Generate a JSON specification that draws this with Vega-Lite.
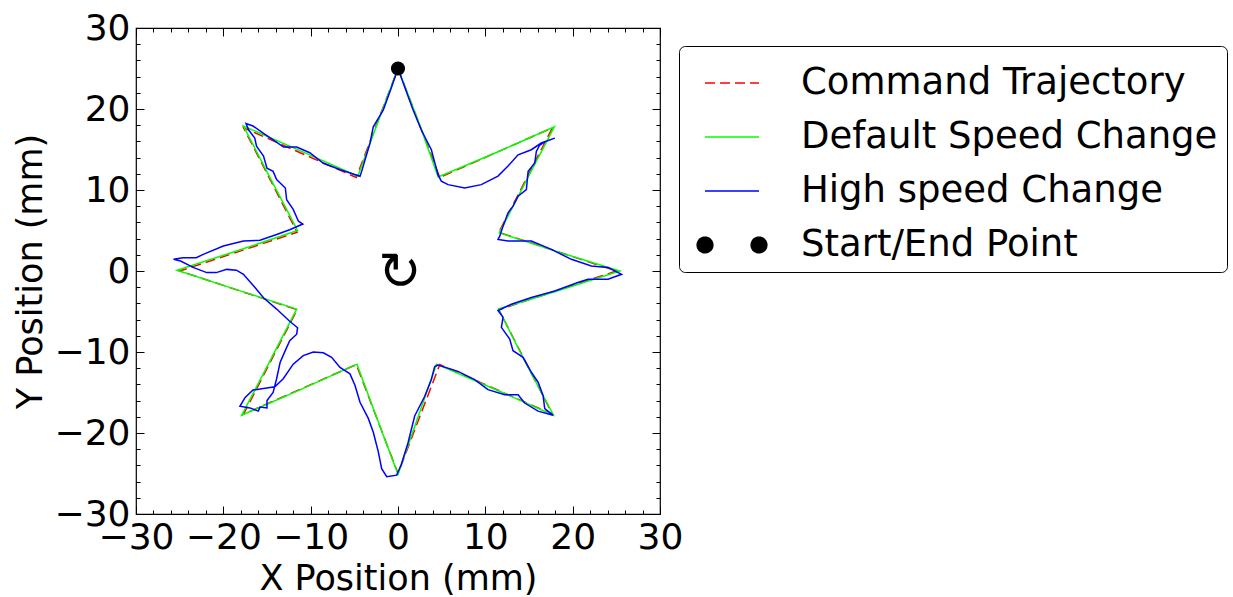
{
  "$schema": "https://vega.github.io/schema/vega-lite/v6.json",
  "width": 524,
  "height": 486,
  "autosize": {"type": "none"},
  "padding": {"left": 136, "top": 28, "right": 573, "bottom": 83},
  "background": "white",
  "config": {
    "view": {"stroke": "black", "strokeWidth": 1.2},
    "font": "DejaVu Sans"
  },
  "datasets": {
    "traj": [
      {"s": "Command Trajectory", "i": 0, "x": 0, "y": 25},
      {"s": "Command Trajectory", "i": 1, "x": 4.78, "y": 11.55},
      {"s": "Command Trajectory", "i": 2, "x": 17.68, "y": 17.68},
      {"s": "Command Trajectory", "i": 3, "x": 11.55, "y": 4.78},
      {"s": "Command Trajectory", "i": 4, "x": 25, "y": 0},
      {"s": "Command Trajectory", "i": 5, "x": 11.55, "y": -4.78},
      {"s": "Command Trajectory", "i": 6, "x": 17.68, "y": -17.68},
      {"s": "Command Trajectory", "i": 7, "x": 4.78, "y": -11.55},
      {"s": "Command Trajectory", "i": 8, "x": 0, "y": -25},
      {"s": "Command Trajectory", "i": 9, "x": -4.78, "y": -11.55},
      {"s": "Command Trajectory", "i": 10, "x": -17.68, "y": -17.68},
      {"s": "Command Trajectory", "i": 11, "x": -11.55, "y": -4.78},
      {"s": "Command Trajectory", "i": 12, "x": -25, "y": 0},
      {"s": "Command Trajectory", "i": 13, "x": -11.55, "y": 4.78},
      {"s": "Command Trajectory", "i": 14, "x": -17.68, "y": 17.68},
      {"s": "Command Trajectory", "i": 15, "x": -4.78, "y": 11.55},
      {"s": "Command Trajectory", "i": 16, "x": 0, "y": 25},

      {"s": "Default Speed Change", "i": 0, "x": 0, "y": 25.0},
      {"s": "Default Speed Change", "i": 1, "x": 2.4, "y": 18.3},
      {"s": "Default Speed Change", "i": 2, "x": 4.6, "y": 11.6},
      {"s": "Default Speed Change", "i": 3, "x": 11.2, "y": 14.6},
      {"s": "Default Speed Change", "i": 4, "x": 17.9, "y": 17.8},
      {"s": "Default Speed Change", "i": 5, "x": 14.7, "y": 11.2},
      {"s": "Default Speed Change", "i": 6, "x": 11.6, "y": 4.7},
      {"s": "Default Speed Change", "i": 7, "x": 18.5, "y": 2.3},
      {"s": "Default Speed Change", "i": 8, "x": 25.4, "y": 0.0},
      {"s": "Default Speed Change", "i": 9, "x": 18.4, "y": -2.4},
      {"s": "Default Speed Change", "i": 10, "x": 11.5, "y": -4.7},
      {"s": "Default Speed Change", "i": 11, "x": 14.6, "y": -11.3},
      {"s": "Default Speed Change", "i": 12, "x": 17.8, "y": -17.8},
      {"s": "Default Speed Change", "i": 13, "x": 11.1, "y": -14.6},
      {"s": "Default Speed Change", "i": 14, "x": 4.4, "y": -11.5},
      {"s": "Default Speed Change", "i": 15, "x": 2.2, "y": -18.3},
      {"s": "Default Speed Change", "i": 16, "x": 0, "y": -25.1},
      {"s": "Default Speed Change", "i": 17, "x": -2.4, "y": -18.2},
      {"s": "Default Speed Change", "i": 18, "x": -4.7, "y": -11.5},
      {"s": "Default Speed Change", "i": 19, "x": -11.3, "y": -14.7},
      {"s": "Default Speed Change", "i": 20, "x": -17.9, "y": -17.8},
      {"s": "Default Speed Change", "i": 21, "x": -14.7, "y": -11.2},
      {"s": "Default Speed Change", "i": 22, "x": -11.6, "y": -4.7},
      {"s": "Default Speed Change", "i": 23, "x": -18.5, "y": -2.3},
      {"s": "Default Speed Change", "i": 24, "x": -25.3, "y": 0.1},
      {"s": "Default Speed Change", "i": 25, "x": -18.4, "y": 2.5},
      {"s": "Default Speed Change", "i": 26, "x": -11.5, "y": 5.0},
      {"s": "Default Speed Change", "i": 27, "x": -14.6, "y": 11.4},
      {"s": "Default Speed Change", "i": 28, "x": -17.7, "y": 17.9},
      {"s": "Default Speed Change", "i": 29, "x": -11.1, "y": 14.8},
      {"s": "Default Speed Change", "i": 30, "x": -4.6, "y": 11.7},
      {"s": "Default Speed Change", "i": 31, "x": -2.3, "y": 18.4},
      {"s": "Default Speed Change", "i": 32, "x": 0, "y": 25.0},

      {"s": "High speed Change", "i": 0, "x": 0, "y": 25.0},
      {"s": "High speed Change", "i": 1, "x": 0.9, "y": 22.3},
      {"s": "High speed Change", "i": 2, "x": 1.72, "y": 19.9},
      {"s": "High speed Change", "i": 3, "x": 2.67, "y": 17.4},
      {"s": "High speed Change", "i": 4, "x": 3.82, "y": 14.97},
      {"s": "High speed Change", "i": 5, "x": 4.58, "y": 11.9},
      {"s": "High speed Change", "i": 6, "x": 4.96, "y": 11.1},
      {"s": "High speed Change", "i": 7, "x": 5.73, "y": 10.66},
      {"s": "High speed Change", "i": 8, "x": 7.64, "y": 10.25},
      {"s": "High speed Change", "i": 9, "x": 9.54, "y": 10.66},
      {"s": "High speed Change", "i": 10, "x": 11.45, "y": 11.72},
      {"s": "High speed Change", "i": 11, "x": 12.6, "y": 12.95},
      {"s": "High speed Change", "i": 12, "x": 13.75, "y": 14.35},
      {"s": "High speed Change", "i": 13, "x": 15.27, "y": 14.97},
      {"s": "High speed Change", "i": 14, "x": 16.4, "y": 15.8},
      {"s": "High speed Change", "i": 15, "x": 17.95, "y": 16.4},
      {"s": "High speed Change", "i": 16, "x": 16.8, "y": 15.95},
      {"s": "High speed Change", "i": 17, "x": 16.2, "y": 15.5},
      {"s": "High speed Change", "i": 18, "x": 15.84, "y": 14.76},
      {"s": "High speed Change", "i": 19, "x": 15.66, "y": 13.33},
      {"s": "High speed Change", "i": 20, "x": 14.9, "y": 12.3},
      {"s": "High speed Change", "i": 21, "x": 14.7, "y": 10.05},
      {"s": "High speed Change", "i": 22, "x": 13.75, "y": 9.23},
      {"s": "High speed Change", "i": 23, "x": 13.17, "y": 8.0},
      {"s": "High speed Change", "i": 24, "x": 12.6, "y": 7.18},
      {"s": "High speed Change", "i": 25, "x": 12.03, "y": 5.54},
      {"s": "High speed Change", "i": 26, "x": 11.65, "y": 4.3},
      {"s": "High speed Change", "i": 27, "x": 11.45, "y": 3.9},
      {"s": "High speed Change", "i": 28, "x": 12.6, "y": 3.7},
      {"s": "High speed Change", "i": 29, "x": 15.27, "y": 3.7},
      {"s": "High speed Change", "i": 30, "x": 17.56, "y": 2.67},
      {"s": "High speed Change", "i": 31, "x": 19.85, "y": 1.44},
      {"s": "High speed Change", "i": 32, "x": 22.14, "y": 0.62},
      {"s": "High speed Change", "i": 33, "x": 24.05, "y": 0.42},
      {"s": "High speed Change", "i": 34, "x": 25.6, "y": -0.41},
      {"s": "High speed Change", "i": 35, "x": 24.05, "y": -1.02},
      {"s": "High speed Change", "i": 36, "x": 21.76, "y": -1.02},
      {"s": "High speed Change", "i": 37, "x": 20.6, "y": -1.43},
      {"s": "High speed Change", "i": 38, "x": 17.95, "y": -2.46},
      {"s": "High speed Change", "i": 39, "x": 15.27, "y": -3.28},
      {"s": "High speed Change", "i": 40, "x": 12.98, "y": -4.1},
      {"s": "High speed Change", "i": 41, "x": 11.45, "y": -4.88},
      {"s": "High speed Change", "i": 42, "x": 12.03, "y": -5.7},
      {"s": "High speed Change", "i": 43, "x": 11.84, "y": -6.96},
      {"s": "High speed Change", "i": 44, "x": 12.79, "y": -8.4},
      {"s": "High speed Change", "i": 45, "x": 13.17, "y": -9.84},
      {"s": "High speed Change", "i": 46, "x": 14.32, "y": -10.66},
      {"s": "High speed Change", "i": 47, "x": 15.27, "y": -12.5},
      {"s": "High speed Change", "i": 48, "x": 16.04, "y": -13.73},
      {"s": "High speed Change", "i": 49, "x": 16.61, "y": -15.37},
      {"s": "High speed Change", "i": 50, "x": 16.8, "y": -17.0},
      {"s": "High speed Change", "i": 51, "x": 17.75, "y": -17.8},
      {"s": "High speed Change", "i": 52, "x": 16.04, "y": -17.3},
      {"s": "High speed Change", "i": 53, "x": 14.5, "y": -16.3},
      {"s": "High speed Change", "i": 54, "x": 13.75, "y": -15.27},
      {"s": "High speed Change", "i": 55, "x": 12.22, "y": -15.27},
      {"s": "High speed Change", "i": 56, "x": 10.3, "y": -14.65},
      {"s": "High speed Change", "i": 57, "x": 8.78, "y": -13.4},
      {"s": "High speed Change", "i": 58, "x": 6.87, "y": -12.39},
      {"s": "High speed Change", "i": 59, "x": 4.58, "y": -11.6},
      {"s": "High speed Change", "i": 60, "x": 4.2, "y": -11.8},
      {"s": "High speed Change", "i": 61, "x": 3.82, "y": -13.4},
      {"s": "High speed Change", "i": 62, "x": 3.05, "y": -15.5},
      {"s": "High speed Change", "i": 63, "x": 1.91, "y": -17.9},
      {"s": "High speed Change", "i": 64, "x": 1.15, "y": -21.2},
      {"s": "High speed Change", "i": 65, "x": 0.38, "y": -23.9},
      {"s": "High speed Change", "i": 66, "x": -0.15, "y": -25.2},
      {"s": "High speed Change", "i": 67, "x": -1.29, "y": -25.4},
      {"s": "High speed Change", "i": 68, "x": -1.87, "y": -24.4},
      {"s": "High speed Change", "i": 69, "x": -2.26, "y": -22.3},
      {"s": "High speed Change", "i": 70, "x": -2.83, "y": -19.9},
      {"s": "High speed Change", "i": 71, "x": -3.4, "y": -18.2},
      {"s": "High speed Change", "i": 72, "x": -4.35, "y": -16.2},
      {"s": "High speed Change", "i": 73, "x": -4.93, "y": -14.1},
      {"s": "High speed Change", "i": 74, "x": -5.5, "y": -12.7},
      {"s": "High speed Change", "i": 75, "x": -6.64, "y": -11.9},
      {"s": "High speed Change", "i": 76, "x": -7.6, "y": -10.65},
      {"s": "High speed Change", "i": 77, "x": -8.55, "y": -10.1},
      {"s": "High speed Change", "i": 78, "x": -9.7, "y": -10.0},
      {"s": "High speed Change", "i": 79, "x": -10.85, "y": -10.45},
      {"s": "High speed Change", "i": 80, "x": -12.0, "y": -11.5},
      {"s": "High speed Change", "i": 81, "x": -13.14, "y": -13.3},
      {"s": "High speed Change", "i": 82, "x": -14.1, "y": -14.3},
      {"s": "High speed Change", "i": 83, "x": -15.4, "y": -14.5},
      {"s": "High speed Change", "i": 84, "x": -16.6, "y": -14.7},
      {"s": "High speed Change", "i": 85, "x": -17.5, "y": -15.6},
      {"s": "High speed Change", "i": 86, "x": -18.1, "y": -16.7},
      {"s": "High speed Change", "i": 87, "x": -16.95, "y": -16.9},
      {"s": "High speed Change", "i": 88, "x": -16.0, "y": -17.3},
      {"s": "High speed Change", "i": 89, "x": -15.8, "y": -16.8},
      {"s": "High speed Change", "i": 90, "x": -15.0, "y": -16.9},
      {"s": "High speed Change", "i": 91, "x": -15.0, "y": -16.0},
      {"s": "High speed Change", "i": 92, "x": -14.3, "y": -15.0},
      {"s": "High speed Change", "i": 93, "x": -13.9, "y": -13.3},
      {"s": "High speed Change", "i": 94, "x": -13.5, "y": -11.3},
      {"s": "High speed Change", "i": 95, "x": -12.9, "y": -9.8},
      {"s": "High speed Change", "i": 96, "x": -12.4, "y": -8.6},
      {"s": "High speed Change", "i": 97, "x": -11.6, "y": -7.8},
      {"s": "High speed Change", "i": 98, "x": -11.5, "y": -7.0},
      {"s": "High speed Change", "i": 99, "x": -12.4, "y": -6.2},
      {"s": "High speed Change", "i": 100, "x": -13.9, "y": -4.7},
      {"s": "High speed Change", "i": 101, "x": -15.4, "y": -3.3},
      {"s": "High speed Change", "i": 102, "x": -16.4, "y": -2.0},
      {"s": "High speed Change", "i": 103, "x": -17.7, "y": -0.4},
      {"s": "High speed Change", "i": 104, "x": -18.5, "y": 0.1},
      {"s": "High speed Change", "i": 105, "x": -19.6, "y": 0.2},
      {"s": "High speed Change", "i": 106, "x": -20.8, "y": -0.2},
      {"s": "High speed Change", "i": 107, "x": -21.9, "y": -0.2},
      {"s": "High speed Change", "i": 108, "x": -23.4, "y": 0.42},
      {"s": "High speed Change", "i": 109, "x": -24.9, "y": 1.23},
      {"s": "High speed Change", "i": 110, "x": -25.7, "y": 1.44},
      {"s": "High speed Change", "i": 111, "x": -24.6, "y": 1.64},
      {"s": "High speed Change", "i": 112, "x": -23.1, "y": 1.64},
      {"s": "High speed Change", "i": 113, "x": -22.3, "y": 2.05},
      {"s": "High speed Change", "i": 114, "x": -20.0, "y": 3.08},
      {"s": "High speed Change", "i": 115, "x": -17.7, "y": 3.7},
      {"s": "High speed Change", "i": 116, "x": -15.8, "y": 3.8},
      {"s": "High speed Change", "i": 117, "x": -13.9, "y": 4.5},
      {"s": "High speed Change", "i": 118, "x": -12.4, "y": 5.1},
      {"s": "High speed Change", "i": 119, "x": -10.9, "y": 5.8},
      {"s": "High speed Change", "i": 120, "x": -11.4, "y": 6.15},
      {"s": "High speed Change", "i": 121, "x": -12.0, "y": 7.6},
      {"s": "High speed Change", "i": 122, "x": -12.75, "y": 8.8},
      {"s": "High speed Change", "i": 123, "x": -12.9, "y": 10.25},
      {"s": "High speed Change", "i": 124, "x": -13.9, "y": 11.3},
      {"s": "High speed Change", "i": 125, "x": -14.3, "y": 12.3},
      {"s": "High speed Change", "i": 126, "x": -15.0, "y": 12.7},
      {"s": "High speed Change", "i": 127, "x": -15.4, "y": 14.2},
      {"s": "High speed Change", "i": 128, "x": -16.2, "y": 15.4},
      {"s": "High speed Change", "i": 129, "x": -16.4, "y": 16.4},
      {"s": "High speed Change", "i": 130, "x": -17.1, "y": 17.4},
      {"s": "High speed Change", "i": 131, "x": -17.4, "y": 18.2},
      {"s": "High speed Change", "i": 132, "x": -16.6, "y": 17.9},
      {"s": "High speed Change", "i": 133, "x": -15.4, "y": 17.0},
      {"s": "High speed Change", "i": 134, "x": -14.3, "y": 16.2},
      {"s": "High speed Change", "i": 135, "x": -13.1, "y": 15.3},
      {"s": "High speed Change", "i": 136, "x": -11.6, "y": 15.3},
      {"s": "High speed Change", "i": 137, "x": -10.1, "y": 14.6},
      {"s": "High speed Change", "i": 138, "x": -8.55, "y": 13.3},
      {"s": "High speed Change", "i": 139, "x": -6.6, "y": 12.5},
      {"s": "High speed Change", "i": 140, "x": -4.35, "y": 11.7},
      {"s": "High speed Change", "i": 141, "x": -4.16, "y": 12.3},
      {"s": "High speed Change", "i": 142, "x": -3.78, "y": 13.7},
      {"s": "High speed Change", "i": 143, "x": -3.2, "y": 15.8},
      {"s": "High speed Change", "i": 144, "x": -2.83, "y": 17.8},
      {"s": "High speed Change", "i": 145, "x": -1.68, "y": 19.9},
      {"s": "High speed Change", "i": 146, "x": -0.8, "y": 22.5},
      {"s": "High speed Change", "i": 147, "x": 0, "y": 25.0}
    ],
    "start": [{"s": "Start/End Point", "x": 0, "y": 25}],
    "marker": [{"label": "↻", "x": 0.2, "y": -0.2}]
  },
  "resolve": {"axis": {"x": "independent", "y": "independent"}},
  "layer": [
    {
      "data": {"name": "traj"},
      "transform": [{"filter": "datum.s === 'Command Trajectory'"}],
      "mark": {"type": "line", "strokeDash": [10, 5], "strokeWidth": 1.5},
      "encoding": {
        "x": {
          "field": "x", "type": "quantitative",
          "scale": {"domain": [-30, 30], "nice": false, "zero": false},
          "axis": {
            "values": [-30,-28,-26,-24,-22,-20,-18,-16,-14,-12,-10,-8,-6,-4,-2,0,2,4,6,8,10,12,14,16,18,20,22,24,26,28,30],
            "tickSize": {"condition": {"test": "datum.value % 10 === 0", "value": -8}, "value": -4},
            "labelExpr": "datum.value % 10 === 0 ? datum.label : ''",
            "labelFont": "DejaVu Sans", "labelFontSize": 36, "labelColor": "black",
            "labelPadding": 14, "labelOverlap": false, "labelFlush": false,
            "domain": false, "grid": false, "tickColor": "black", "tickWidth": 1,
            "title": "X Position (mm)", "titleFont": "DejaVu Sans", "titleFontSize": 35,
            "titleFontWeight": "normal", "titleColor": "black", "titlePadding": 2
          }
        },
        "y": {
          "field": "y", "type": "quantitative",
          "scale": {"domain": [-30, 30], "nice": false, "zero": false},
          "axis": {
            "values": [-30,-28,-26,-24,-22,-20,-18,-16,-14,-12,-10,-8,-6,-4,-2,0,2,4,6,8,10,12,14,16,18,20,22,24,26,28,30],
            "tickSize": {"condition": {"test": "datum.value % 10 === 0", "value": -8}, "value": -4},
            "labelExpr": "datum.value % 10 === 0 ? datum.label : ''",
            "labelFont": "DejaVu Sans", "labelFontSize": 36, "labelColor": "black",
            "labelPadding": 14, "labelOverlap": false, "labelFlush": false,
            "domain": false, "grid": false, "tickColor": "black", "tickWidth": 1,
            "title": "Y Position (mm)", "titleFont": "DejaVu Sans", "titleFontSize": 35,
            "titleFontWeight": "normal", "titleColor": "black", "titlePadding": 6
          }
        },
        "color": {
          "field": "s", "type": "nominal",
          "scale": {
            "domain": ["Command Trajectory", "Default Speed Change", "High speed Change", "Start/End Point"],
            "range": ["#ff0000", "#00ff00", "#0000ff", "#000000"]
          },
          "legend": {
            "orient": "none", "legendX": 543, "legendY": 18,
            "title": null,
            "labelFont": "DejaVu Sans", "labelFontSize": 37, "labelColor": "black", "labelLimit": 1000,
            "symbolSize": 2916, "symbolStrokeWidth": 1.5, "symbolOffset": 16,
            "labelOffset": 41, "padding": 9, "rowPadding": 8,
            "strokeColor": "black", "cornerRadius": 6, "fillColor": "white",
            "encode": {
              "symbols": {
                "update": {
                  "shape": {"signal": "datum.value === 'Start/End Point' ? 'M-1.29,0A0.29,0.29,0,1,0,-0.71,0A0.29,0.29,0,1,0,-1.29,0ZM0.71,0A0.29,0.29,0,1,0,1.29,0A0.29,0.29,0,1,0,0.71,0Z' : 'stroke'"},
                  "fill": {"signal": "datum.value === 'Start/End Point' ? 'black' : 'transparent'"},
                  "stroke": {"signal": "scale('color', datum.value)"},
                  "strokeDash": {"signal": "datum.value === 'Command Trajectory' ? [10, 5] : [1, 0]"},
                  "strokeWidth": {"value": 1.5},
                  "opacity": {"value": 1}
                }
              }
            }
          }
        },
        "order": {"field": "i", "type": "quantitative"}
      }
    },
    {
      "data": {"name": "traj"},
      "transform": [{"filter": "datum.s !== 'Command Trajectory'"}],
      "mark": {"type": "line", "strokeWidth": 1.5},
      "encoding": {
        "x": {
          "field": "x", "type": "quantitative",
          "axis": {
            "values": [-30,-28,-26,-24,-22,-20,-18,-16,-14,-12,-10,-8,-6,-4,-2,0,2,4,6,8,10,12,14,16,18,20,22,24,26,28,30],
            "tickSize": {"condition": {"test": "datum.value % 10 === 0", "value": -8}, "value": -4},
            "labels": false, "domain": false, "grid": false, "tickColor": "black", "tickWidth": 1, "title": null
          }
        },
        "y": {
          "field": "y", "type": "quantitative",
          "axis": {
            "values": [-30,-28,-26,-24,-22,-20,-18,-16,-14,-12,-10,-8,-6,-4,-2,0,2,4,6,8,10,12,14,16,18,20,22,24,26,28,30],
            "tickSize": {"condition": {"test": "datum.value % 10 === 0", "value": -8}, "value": -4},
            "labels": false, "domain": false, "grid": false, "tickColor": "black", "tickWidth": 1, "title": null
          }
        },
        "color": {"field": "s", "type": "nominal"},
        "order": {"field": "i", "type": "quantitative"}
      }
    },
    {
      "data": {"name": "start"},
      "mark": {"type": "point", "filled": true, "size": 200, "opacity": 1},
      "encoding": {
        "x": {"field": "x", "type": "quantitative", "axis": null},
        "y": {"field": "y", "type": "quantitative", "axis": null},
        "color": {"field": "s", "type": "nominal"}
      }
    },
    {
      "data": {"name": "marker"},
      "mark": {"type": "text", "font": "DejaVu Sans", "fontSize": 52, "align": "center", "baseline": "middle", "color": "black"},
      "encoding": {
        "x": {"field": "x", "type": "quantitative", "axis": null},
        "y": {"field": "y", "type": "quantitative", "axis": null},
        "text": {"field": "label"}
      }
    }
  ]
}
